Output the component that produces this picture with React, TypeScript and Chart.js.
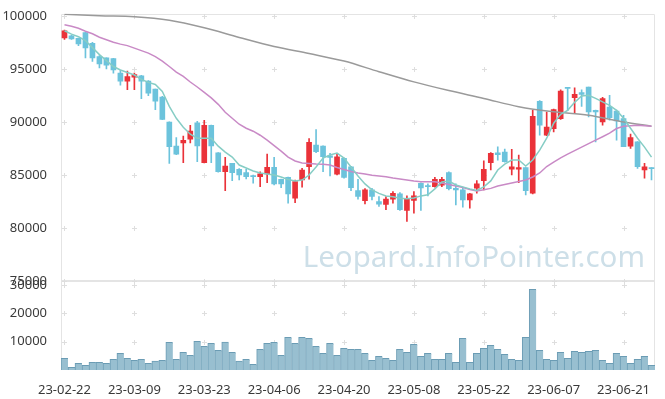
import React, { useEffect, useRef } from 'react';
import { Chart, registerables } from 'chart.js';

Chart.register(...registerables);

const dates = [
  '23-02-22', '23-02-23', '23-02-24', '23-02-27', '23-02-28', '23-03-02', '23-03-03', '23-03-06', '23-03-07', '23-03-08',
  '23-03-09', '23-03-10', '23-03-13', '23-03-14', '23-03-15', '23-03-16', '23-03-17', '23-03-20', '23-03-21', '23-03-22',
  '23-03-23', '23-03-24', '23-03-27', '23-03-28', '23-03-29', '23-03-30', '23-03-31', '23-04-03', '23-04-04', '23-04-05',
  '23-04-06', '23-04-07', '23-04-10', '23-04-11', '23-04-12', '23-04-13', '23-04-14', '23-04-17', '23-04-18', '23-04-19',
  '23-04-20', '23-04-21', '23-04-24', '23-04-25', '23-04-26', '23-04-27', '23-04-28', '23-05-02', '23-05-03', '23-05-04',
  '23-05-08', '23-05-09', '23-05-10', '23-05-11', '23-05-12', '23-05-15', '23-05-16', '23-05-17', '23-05-18', '23-05-19',
  '23-05-22', '23-05-23', '23-05-24', '23-05-25', '23-05-26', '23-05-30', '23-05-31', '23-06-01', '23-06-02', '23-06-05',
  '23-06-07', '23-06-08', '23-06-09', '23-06-12', '23-06-13', '23-06-14', '23-06-15', '23-06-16', '23-06-19', '23-06-20',
  '23-06-21', '23-06-22', '23-06-23', '23-06-26', '23-06-27',
];

const open = [
  97910, 98120, 97870, 98410, 97400, 96150, 96030, 95970, 94590, 93840,
  94210, 94340, 93840, 93090, 92340, 89990, 87710, 88020, 88370, 89900,
  86150, 89680, 87080, 85300, 86090, 85530, 85210, 84900, 84830, 85090,
  85710, 84590, 84780, 82810, 84520, 85770, 87810, 87710, 86800, 85060,
  86560, 85770, 83520, 82580, 83590, 82490, 82210, 82710, 83210, 81650,
  82590, 84210, 83990, 83900, 84020, 85210, 83740, 83590, 82650, 83740,
  84460, 86150, 87080, 87150, 85530, 85530, 85680, 83270, 91930, 88740,
  89370, 90310, 93220, 92280, 92750, 93270, 91090, 89990, 91400, 91020,
  90310, 87710, 88120, 85460, 85680,
];

const close = [
  98590, 97810, 97350, 96970, 96030, 95470, 95340, 94910, 93840, 94280,
  94470, 93840, 92710, 91960, 90220, 87650, 86960, 88270, 89120, 87740,
  89680, 87740, 85300, 85840, 85210, 84990, 84830, 84830, 85090, 85710,
  84150, 84150, 83210, 84370, 85460, 88060, 87180, 86710, 86650, 86710,
  84770, 83800, 82960, 83590, 82960, 82240, 82710, 83270, 81710, 82710,
  83020, 83770, 83900, 84590, 84590, 83710, 83590, 82650, 83210, 84150,
  85530, 87030, 86900, 86240, 85770, 85680, 83520, 90530, 89680, 89520,
  91150, 92900, 93160, 92590, 92590, 90930, 90930, 92190, 90400, 90090,
  87650, 88530, 85770, 85770, 85590,
];

const high = [
  98660, 98150, 97900, 98450, 97500, 96250, 96030, 96000, 94840, 94780,
  94590, 94400, 93900, 93100, 92400, 90000, 88530, 88650, 89680, 90060,
  90150, 89700, 87100, 86650, 86100, 85600, 85530, 84990, 85300, 86960,
  86650, 84600, 84800, 84520, 85620, 88430, 89280, 87750, 87030, 87030,
  86600, 85800, 84590, 83700, 83740, 82960, 82960, 83430, 83330, 83020,
  83430, 84250, 84150, 84780, 84780, 85300, 84150, 83740, 83270, 84460,
  86330, 87100, 87650, 87430, 87400, 86870, 85700, 91090, 92000, 90930,
  91200, 93030, 93220, 93220, 93030, 93280, 91100, 92310, 92500, 91100,
  90620, 88840, 88150, 86090, 85700,
];

const low = [
  97780, 97780, 97190, 96030, 95710, 95090, 95000, 94590, 93460, 93030,
  93030, 92190, 92470, 91150, 90200, 86090, 86900, 86150, 88020, 86240,
  86120, 86150, 85250, 83520, 84460, 84520, 84620, 84210, 83890, 84270,
  84050, 83800, 82340, 82390, 83840, 84590, 87100, 85300, 84900, 84990,
  84700, 83520, 82710, 82270, 82650, 82020, 81710, 82340, 81650, 80610,
  81400, 81650, 83020, 83850, 83900, 83590, 82180, 81960, 81870, 83270,
  83590, 85460, 86400, 86200, 84990, 84270, 83120, 83200, 88740, 88700,
  89050, 90220, 91060, 90780, 91460, 90460, 88120, 89680, 90150, 88280,
  87650, 87500, 85620, 84680, 84520,
];

const volume = [
  4120, 940, 2360, 1650, 2710, 2710, 2360, 3770, 5890, 4120,
  3420, 3770, 2360, 3180, 3420, 9780, 3770, 6240, 5180, 10130,
  8360, 9420, 6950, 9890, 6240, 3180, 3770, 2000, 7300, 9420,
  9780, 5180, 11540, 9420, 11540, 11190, 8360, 5890, 9420, 5180,
  7660, 7300, 7300, 5890, 3420, 4830, 4120, 3420, 7300, 6240,
  9070, 4830, 5890, 3770, 3770, 5890, 2710, 11190, 2710, 5890,
  7660, 8720, 7300, 5540, 3770, 3420, 11540, 28510, 6950, 3770,
  3420, 6240, 4120, 6600, 6240, 6600, 6950, 3420, 2360, 5890,
  4830, 2360, 3770, 4830, 1650,
];

const ma5 = [
  98590, 98270, 98030, 97660, 97000, 96340, 95780, 95220, 94890, 94650,
  94420, 94000, 93720, 93530, 92870, 91460, 90340, 89490, 88840, 88460,
  88460, 88460, 87710, 87150, 86680, 85930, 85650, 85370, 85180, 85090,
  84990, 84800, 84570, 84430, 84520, 84990, 85740, 86590, 86870, 87060,
  86590, 85740, 84900, 84150, 83590, 83260, 83020, 82930, 82790, 82740,
  82830, 83020, 83120, 83680, 84340, 84430, 84050, 83870, 83680, 83540,
  83870, 84430, 85460, 86020, 86400, 86400, 85840, 86400, 87340, 88460,
  89870, 90710, 91090, 91840, 92450, 92500, 92210, 91890, 91560, 91090,
  90340, 89400, 88460, 87620, 86680,
];

const ma20 = [
  99160, 99020, 98830, 98550, 98310, 97980, 97750, 97510, 97330, 97190,
  96950, 96720, 96480, 96150, 95730, 95220, 94700, 94280, 93760, 93290,
  92780, 92260, 91650, 90900, 90340, 89780, 89400, 89120, 88740, 88280,
  87760, 87240, 86680, 86310, 86120, 86070, 86020, 86000, 85930, 85700,
  85510, 85320, 85180, 85090, 84960, 84900, 84830, 84710, 84620, 84520,
  84430, 84360, 84360, 84360, 84240, 84100, 83960, 83820, 83630, 83490,
  83590, 83730, 83960, 84100, 84240, 84380, 84520, 84800, 85180, 85790,
  86210, 86610, 86960, 87290, 87620, 87950, 88280, 88600, 88930, 89370,
  89590, 89640, 89680, 89640, 89590,
];

const maLongDates = [
  '23-02-22', '23-03-02', '23-03-09', '23-03-16', '23-03-23', '23-03-30', '23-04-06', '23-04-13', '23-04-20',
  '23-04-27', '23-05-08', '23-05-15', '23-05-22', '23-05-30', '23-06-07', '23-06-14', '23-06-21', '23-06-27',
];
const maLongValues = [
  100150, 100000, 99910, 99580, 98870, 97960, 97100, 96440, 95730,
  94730, 93770, 92950, 92210, 91430, 90950, 90620, 89990, 89590,
];

const priceTicks = [75000, 80000, 85000, 90000, 95000, 100000];
const volumeTicks = [10000, 20000, 30000];
const watermark = 'Leopard.InfoPointer.com';

const FONT = { family: "'Noto Sans', sans-serif", size: 13 };
const UP = '#ea3239';
const DOWN = '#6cc3dc';

export default function App() {
  const ref = useRef<HTMLCanvasElement>(null);

  useEffect(() => {
    document.body.style.margin = '0';
    const canvas = ref.current;
    if (!canvas) return;
    const colors = close.map((c, i) => (c >= open[i] ? UP : DOWN));

    const frame = {
      id: 'frame',
      beforeDatasetsDraw(chart: any) {
        const { ctx, chartArea } = chart;
        const x = chart.scales.x;
        const y = chart.scales.y;
        const yv = chart.scales.yv;
        ctx.save();
        // watermark
        ctx.font = "29.5px 'Noto Sans', sans-serif";
        ctx.fillStyle = '#cddfe8';
        ctx.textAlign = 'right';
        ctx.textBaseline = 'alphabetic';
        ctx.fillText(watermark, chartArea.right - 10, y.bottom - 14);
        // frame
        ctx.strokeStyle = '#e4e4e4';
        ctx.lineWidth = 1;
        ctx.beginPath();
        ctx.moveTo(Math.round(chartArea.left) + 0.5, chartArea.bottom);
        ctx.lineTo(Math.round(chartArea.left) + 0.5, Math.round(chartArea.top) + 0.5);
        ctx.lineTo(Math.round(chartArea.right) - 0.5, Math.round(chartArea.top) + 0.5);
        ctx.lineTo(Math.round(chartArea.right) - 0.5, chartArea.bottom);
        ctx.stroke();
        ctx.lineWidth = 2;
        ctx.beginPath();
        ctx.moveTo(chartArea.left, Math.round(y.bottom));
        ctx.lineTo(chartArea.right, Math.round(y.bottom));
        ctx.stroke();
        // crosses
        ctx.strokeStyle = '#dedede';
        ctx.lineWidth = 1;
        const xs: number[] = [];
        dates.forEach((_, i) => {
          if (i % 10 === 0) xs.push(Math.round(x.getPixelForValue(i)));
        });
        const ys: number[] = [];
        priceTicks.forEach((v) => ys.push(Math.round(y.getPixelForValue(v))));
        volumeTicks.forEach((v) => ys.push(Math.round(yv.getPixelForValue(v))));
        ctx.beginPath();
        xs.forEach((px) => {
          ys.forEach((py) => {
            ctx.moveTo(px - 2, py + 0.5);
            ctx.lineTo(px + 3, py + 0.5);
            ctx.moveTo(px + 0.5, py - 2);
            ctx.lineTo(px + 0.5, py + 3);
          });
        });
        ctx.stroke();
        ctx.restore();
      },
    };

    const chart = new Chart(canvas, {
      type: 'bar',
      data: {
        labels: dates,
        datasets: [
          {
            type: 'line', label: 'MA5', data: ma5, yAxisID: 'y',
            borderColor: '#86cdc5', borderWidth: 1.5, pointRadius: 0, order: 0,
          } as any,
          {
            type: 'line', label: 'MA20', data: ma20, yAxisID: 'y',
            borderColor: '#c98ac6', borderWidth: 1.5, pointRadius: 0, order: 0,
          } as any,
          {
            type: 'line', label: 'MA60',
            data: maLongDates.map((d, i) => ({ x: d, y: maLongValues[i] })),
            yAxisID: 'y', borderColor: '#9a9a9a', borderWidth: 1.5, pointRadius: 0,
            cubicInterpolationMode: 'monotone', spanGaps: true, order: 0,
          } as any,
          {
            type: 'bar', label: 'body', data: dates.map((_, i) => [open[i], close[i]]),
            yAxisID: 'y', backgroundColor: colors, barThickness: 5, grouped: false,
            minBarLength: 1, order: 1,
          } as any,
          {
            type: 'bar', label: 'wick', data: dates.map((_, i) => [low[i], high[i]]),
            yAxisID: 'y', backgroundColor: colors, barThickness: 1, grouped: false, order: 2,
          } as any,
          {
            type: 'bar', label: 'volume', data: volume, yAxisID: 'yv',
            backgroundColor: '#98bfd0', borderColor: '#6b9cb4',
            borderWidth: { top: 1, left: 1, right: 0, bottom: 0 },
            borderSkipped: false,
            categoryPercentage: 1, barPercentage: 1, grouped: false, order: 3,
          } as any,
        ],
      },
      options: {
        responsive: false,
        animation: false,
        layout: { padding: { top: 13, right: 10, left: 0, bottom: 0 } },
        plugins: { legend: { display: false }, tooltip: { enabled: false } },
        scales: {
          x: {
            type: 'category', offset: true,
            grid: { display: false }, border: { display: false },
            ticks: {
              autoSkip: false, maxRotation: 0, minRotation: 0, padding: 4,
              font: FONT, color: '#3a3a3a',
              callback: (_v: any, i: number) => (i % 10 === 0 ? dates[i] : null),
            },
            afterFit: (s: any) => { s.height = 29; },
          },
          yv: {
            type: 'linear', position: 'left', stack: 'main', stackWeight: 1,
            min: 0, max: 31500,
            grid: { display: false }, border: { display: false },
            afterBuildTicks: (s: any) => { s.ticks = volumeTicks.map((v) => ({ value: v })); },
            ticks: { padding: 6, font: FONT, color: '#3a3a3a', callback: (v: any) => String(v) },
            afterFit: (s: any) => { s.width = 61; },
          },
          y: {
            type: 'linear', position: 'left', stack: 'main', stackWeight: 3,
            min: 75000, max: 100190,
            grid: { display: false }, border: { display: false },
            afterBuildTicks: (s: any) => { s.ticks = priceTicks.map((v) => ({ value: v })); },
            ticks: { padding: 6, font: FONT, color: '#3a3a3a', callback: (v: any) => String(v) },
            afterFit: (s: any) => { s.width = 61; },
          },
        },
      } as any,
      plugins: [frame],
    });
    return () => chart.destroy();
  }, []);

  return (
    <div style={{ width: 665, height: 399 }}>
      <canvas ref={ref} width={665} height={399} style={{ display: 'block' }} />
    </div>
  );
}
